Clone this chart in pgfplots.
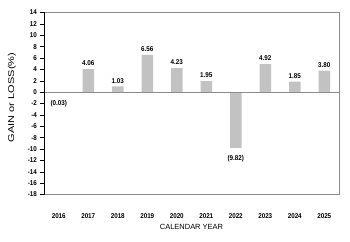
\documentclass[border=0pt]{standalone}
\usepackage{fontspec}
\setmainfont{Liberation Sans}
\newfontfamily\narrowbf[FakeStretch=0.9]{Liberation Sans Bold}
\newfontfamily\widefont[FakeStretch=1.3]{Liberation Sans}
\usepackage{pgfplots}
\pgfplotsset{compat=1.18}
\usepackage{pgfplotstable}
\definecolor{barg}{HTML}{C2C2C2}
\definecolor{boxg}{HTML}{8C8C8C}
\pgfplotstableread{
x y lab
1 4.06 4.06
2 1.03 1.03
3 6.56 6.56
4 4.23 4.23
5 1.95 1.95
7 4.92 4.92
8 1.85 1.85
9 3.80 3.80
}\posdata
\pgfplotstableread{
x y lab
0 -0.03 (0.03)
6 -9.82 (9.82)
}\negdata
\begin{document}
\begin{tikzpicture}
\useasboundingbox (-44bp,-47.5bp) rectangle (306bp,194.5bp);
\begin{axis}[
  scale only axis,
  width=295bp, height=182bp,
  xmin=-0.5, xmax=9.5,
  ymin=-18, ymax=14,
  ytick={-18,-16,...,14},
  xtick={0,...,9},
  xticklabels={2016,2017,2018,2019,2020,2021,2022,2023,2024,2025},
  /pgf/number format/assume math mode=true,
  ticklabel style={font=\narrowbf\fontsize{7}{8}\selectfont},
  xticklabel style={anchor=center, yshift=-18bp},
  yticklabel style={xshift=0.5bp},
  x tick style={draw=none},
  y tick style={black, line width=0.5pt},
  tick align=outside,
  tick pos=left,
  major tick length=4bp,
  axis line style={boxg, line width=1pt},
  ybar,
  bar width=11.5bp,
  bar shift=0pt,
  nodes near coords,
  point meta=explicit symbolic,
  every node near coord/.append style={font=\narrowbf\fontsize{7}{8}\selectfont, inner sep=3pt, black},
  clip=false,
]
\addplot[draw=none, fill=barg] table[x=x, y=y, meta=lab] {\posdata};
\addplot[draw=none, fill=barg, every node near coord/.append style={anchor=north, yshift=-4.5bp}] table[x=x, y=y, meta=lab] {\negdata};
\draw[boxg, line width=0.8pt] (axis cs:-0.5,0) -- (axis cs:9.5,0);
\draw[black, line width=0.8pt] (rel axis cs:0,0) -- (rel axis cs:0,1);
\end{axis}
\node[font=\fontsize{7.5}{9}\selectfont] at (147.5bp,-32.5bp) {CALENDAR YEAR};
\node[font=\widefont\fontsize{8.5}{10}\selectfont, rotate=90] at (-32bp,97bp) {GAIN or LOSS(\%)};
\end{tikzpicture}
\end{document}
